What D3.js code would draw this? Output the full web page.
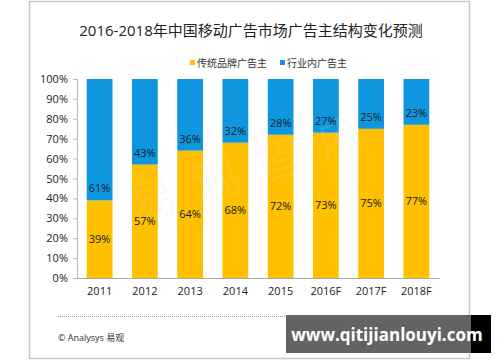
<!DOCTYPE html>
<html><head><meta charset="utf-8">
<script src="https://cdn.jsdelivr.net/npm/d3@7"></script>
<style>body{margin:0;background:#fff}svg{display:block}</style>
</head><body><svg id="c" width="500" height="362"></svg>
<script>
const categories = ["2011","2012","2013","2014","2015","2016F","2017F","2018F"];
const traditional = [39,57,64,68,72,73,75,77];
const industry = [61,43,36,32,28,27,25,23];
const seriesNames = ["传统品牌广告主","行业内广告主"];
const yTicks = [0,10,20,30,40,50,60,70,80,90,100];
const title = "2016-2018年中国移动广告市场广告主结构变化预测";
const colors = ["#FFC000","#0E97DE"];
const font = "'Open Sans','Noto Sans CJK SC',sans-serif";

const svg = d3.select("#c");
svg.append("rect").attr("x",29.5).attr("y",1.5).attr("width",440).attr("height",357)
  .attr("fill","#fff").attr("stroke","#c8c8c8").attr("stroke-width",1.5);

svg.append("text").attr("x",251).attr("y",36).attr("text-anchor","middle")
  .attr("font-family",font).attr("font-size",15).attr("fill","#222").text(title);

const x = d3.scaleBand().domain(categories).range([77,439]).paddingInner(0.43).paddingOuter(0.215);
const y = d3.scaleLinear().domain([0,100]).range([278,79]);

// legend
const lg = svg.append("g").attr("font-family",font).attr("font-size",10).attr("fill","#333");
[[190,0],[280,1]].forEach(([lx,i])=>{
  lg.append("rect").attr("x",lx).attr("y",60).attr("width",5).attr("height",5).attr("fill",colors[i]);
  lg.append("text").attr("x",lx+7).attr("y",67).text(seriesNames[i]);
});

// axes
const ya = svg.append("g").attr("transform","translate(77,0)")
  .call(d3.axisLeft(y).tickValues(yTicks).tickFormat(d=>d+"%").tickSize(4).tickPadding(5));
ya.select(".domain").attr("stroke","#bbb");
ya.selectAll(".tick line").attr("stroke","#bbb");
ya.selectAll("text").attr("font-family",font).attr("font-size",11).attr("fill","#222");

const xa = svg.append("g").attr("transform","translate(0,278)")
  .call(d3.axisBottom(x).tickSize(0).tickPadding(9));
xa.select(".domain").attr("stroke","#aaa");
xa.selectAll("text").attr("font-family",font).attr("font-size",11).attr("fill","#222");

// bars
const bars = svg.append("g");
categories.forEach((c,i)=>{
  bars.append("rect").attr("x",x(c)).attr("width",x.bandwidth())
    .attr("y",y(traditional[i])).attr("height",y(0)-y(traditional[i])).attr("fill",colors[0]);
  bars.append("rect").attr("x",x(c)).attr("width",x.bandwidth())
    .attr("y",y(traditional[i]+industry[i])).attr("height",y(traditional[i])-y(traditional[i]+industry[i])).attr("fill",colors[1]);
});

// watermark (over bars, faint)
const wm = svg.append("g").attr("transform","translate(262,182) rotate(-18)");
wm.append("text").attr("text-anchor","middle").attr("font-family","'Noto Sans CJK SC'").attr("font-weight",300)
  .attr("font-size",46).attr("letter-spacing",20).attr("fill","rgba(225,225,225,0.18)").text("易观智库");

const lbl = svg.append("g").attr("font-family",font).attr("font-size",11).attr("fill","#1a1a1a").attr("text-anchor","middle");
categories.forEach((c,i)=>{
  const cx = x(c)+x.bandwidth()/2;
  lbl.append("text").attr("x",cx).attr("y",y(traditional[i]/2)+4).text(traditional[i]+"%");
  lbl.append("text").attr("x",cx).attr("y",y(traditional[i])-12+4).text(industry[i]+"%");
});

// footer
svg.append("line").attr("x1",58).attr("x2",437).attr("y1",316.5).attr("y2",316.5)
  .attr("stroke","#999").attr("stroke-dasharray","1,1");
svg.append("text").attr("x",58).attr("y",341).attr("font-family",font).attr("font-size",9).attr("fill","#333").text("© Analysys 易观");

// site watermark
svg.append("rect").attr("x",471).attr("y",315).attr("width",20).attr("height",38).attr("fill","#000");
svg.append("rect").attr("x",286).attr("y",315).attr("width",185).attr("height",38).attr("fill","#636363");
svg.append("text").attr("x",387).attr("y",341).attr("text-anchor","middle")
  .attr("font-family","'Open Sans',sans-serif").attr("font-weight","bold").attr("font-size",17).attr("fill","#fff").text("www.qitijianlouyi.com");
</script></body></html>
